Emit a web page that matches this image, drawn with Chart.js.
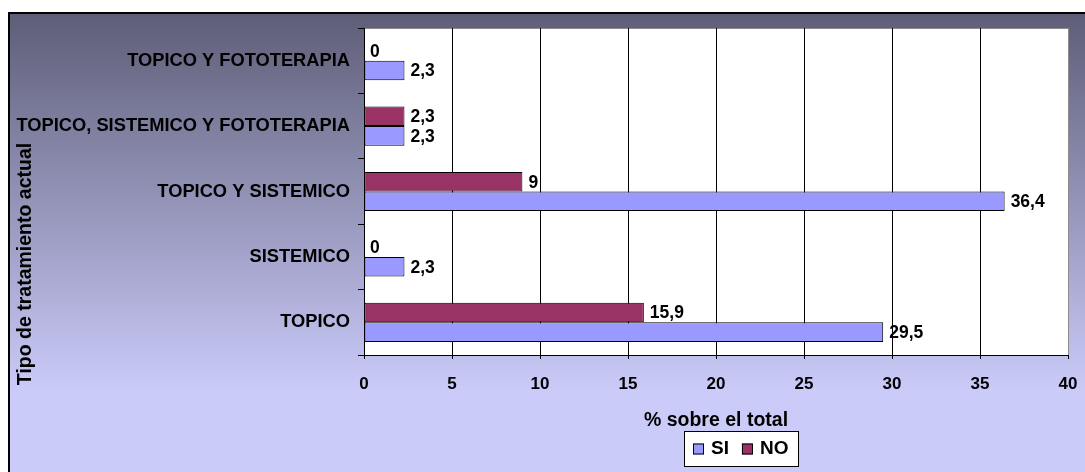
<!DOCTYPE html>
<html>
<head>
<meta charset="utf-8">
<script src="https://cdn.jsdelivr.net/npm/chart.js@4/dist/chart.umd.min.js"></script>
<style>
  html, body { margin: 0; padding: 0; background: #fff; }
  #wrap { position: relative; width: 1085px; height: 472px; }
</style>
</head>
<body>
<div id="wrap"><canvas id="c" width="1085" height="472"></canvas></div>
<script>
// Treatment types, top to bottom
const categories = [
  'TOPICO Y FOTOTERAPIA',
  'TOPICO, SISTEMICO Y FOTOTERAPIA',
  'TOPICO Y SISTEMICO',
  'SISTEMICO',
  'TOPICO'
];
// Percentage of the total for each answer
const siValues = [2.3, 2.3, 36.4, 2.3, 29.5];
const noValues = [0, 2.3, 9, 0, 15.9];
// Value axis ticks
const xTickValues = [0, 5, 10, 15, 20, 25, 30, 35, 40];

const FONT = '"Liberation Sans", Arial, Helvetica, sans-serif';
const SI_COLOR = '#9999ff';
const NO_COLOR = '#993366';

const fmt = v => String(v).replace('.', ',');

// Framed gradient backdrop and white plot area
const backdrop = {
  id: 'backdrop',
  beforeDraw(chart) {
    const { ctx, width, height, chartArea: a } = chart;
    ctx.save();
    ctx.fillStyle = '#fff';
    ctx.fillRect(0, 0, width, height);
    const g = ctx.createLinearGradient(0, 12, 0, 392);
    g.addColorStop(0, '#5d5d77');
    g.addColorStop(1, '#cbcbfa');
    ctx.fillStyle = g;
    ctx.fillRect(8, 12, width - 8, height - 12);
    ctx.strokeStyle = '#000';
    ctx.lineWidth = 2;
    ctx.beginPath();
    ctx.moveTo(9, height);
    ctx.lineTo(9, 13);
    ctx.lineTo(width, 13);
    ctx.stroke();
    ctx.fillStyle = '#fff';
    ctx.fillRect(a.left, a.top, a.right - a.left, a.bottom - a.top);
    ctx.strokeStyle = '#8c8c8c';
    ctx.lineWidth = 1;
    ctx.strokeRect(a.left + 0.5, a.top + 0.5, a.right - a.left, a.bottom - a.top);
    ctx.restore();
  }
};

// Value printed at the end of each bar
const valueLabels = {
  id: 'valueLabels',
  afterDatasetsDraw(chart) {
    const ctx = chart.ctx;
    ctx.save();
    ctx.font = 'bold 17.5px ' + FONT;
    ctx.fillStyle = '#000';
    ctx.textAlign = 'left';
    ctx.textBaseline = 'middle';
    chart.data.datasets.forEach((ds, i) => {
      chart.getDatasetMeta(i).data.forEach((bar, j) => {
        ctx.fillText(fmt(ds.data[j]), bar.x + 6, bar.y + 1);
      });
    });
    ctx.restore();
  }
};

// Rotated category-axis title
const sideTitle = {
  id: 'sideTitle',
  afterDraw(chart) {
    const ctx = chart.ctx;
    ctx.save();
    ctx.translate(26, 264);
    ctx.rotate(-Math.PI / 2);
    ctx.font = 'bold 19.5px ' + FONT;
    ctx.fillStyle = '#000';
    ctx.textAlign = 'center';
    ctx.textBaseline = 'middle';
    ctx.fillText('Tipo de tratamiento actual', 0, 0);
    ctx.restore();
  }
};

// Boxed legend: SI first, then NO
const boxLegend = {
  id: 'boxLegend',
  afterDraw(chart) {
    const ctx = chart.ctx;
    const items = [chart.data.datasets[1], chart.data.datasets[0]];
    ctx.save();
    ctx.fillStyle = '#fff';
    ctx.fillRect(684, 431, 115, 36);
    ctx.strokeStyle = '#000';
    ctx.lineWidth = 1;
    ctx.strokeRect(684.5, 431.5, 114, 35);
    ctx.font = 'bold 19px ' + FONT;
    ctx.textAlign = 'left';
    ctx.textBaseline = 'middle';
    let x = 693;
    const y = 449;
    items.forEach(ds => {
      ctx.fillStyle = ds.backgroundColor;
      ctx.fillRect(x, y - 5.5, 11, 11);
      ctx.strokeStyle = '#000';
      ctx.strokeRect(x + 0.5, y - 5, 10, 10);
      ctx.fillStyle = '#000';
      ctx.fillText(ds.label, x + 18, y);
      x += 18 + ctx.measureText(ds.label).width + 13;
    });
    ctx.restore();
  }
};

new Chart(document.getElementById('c'), {
  type: 'bar',
  data: {
    labels: categories,
    datasets: [
      { label: 'NO', data: noValues, backgroundColor: NO_COLOR, borderColor: '#000', borderWidth: 1, borderSkipped: false },
      { label: 'SI', data: siValues, backgroundColor: SI_COLOR, borderColor: '#000', borderWidth: 1, borderSkipped: false }
    ]
  },
  options: {
    indexAxis: 'y',
    responsive: false,
    animation: false,
    devicePixelRatio: 1,
    layout: { padding: { top: 28, right: 17, left: 0, bottom: 0 } },
    datasets: { bar: { categoryPercentage: 0.6, barPercentage: 1 } },
    plugins: { legend: { display: false }, tooltip: { enabled: false } },
    scales: {
      y: {
        type: 'category',
        grid: { display: true, drawOnChartArea: false, drawTicks: true, tickLength: 6, color: '#000', offset: true },
        border: { display: true, color: '#000', width: 1 },
        ticks: { color: '#000', autoSkip: false, padding: 8, font: { family: FONT, size: 18.3, weight: 'bold' } },
        afterFit(s) { s.width = 364; s.paddingTop = 0; s.paddingBottom = 0; }
      },
      x: {
        type: 'linear',
        min: xTickValues[0],
        max: xTickValues[xTickValues.length - 1],
        afterBuildTicks(s) { s.ticks = xTickValues.map(v => ({ value: v })); },
        ticks: { color: '#000', padding: 15, maxRotation: 0, font: { family: FONT, size: 17, weight: 'bold' } },
        grid: {
          color: c => (c.tick && c.tick.value === xTickValues[xTickValues.length - 1]) ? '#8c8c8c' : '#000',
          tickColor: '#000', tickLength: 4, lineWidth: 1
        },
        border: { display: true, color: '#000', width: 1 },
        title: {
          display: true, text: '% sobre el total', color: '#000',
          font: { family: FONT, size: 19.5, weight: 'bold' },
          padding: { top: 0, bottom: 40 }
        },
        afterFit(s) { s.height = 117; s.paddingLeft = 0; s.paddingRight = 0; }
      }
    }
  },
  plugins: [backdrop, valueLabels, sideTitle, boxLegend]
});
</script>
</body>
</html>
